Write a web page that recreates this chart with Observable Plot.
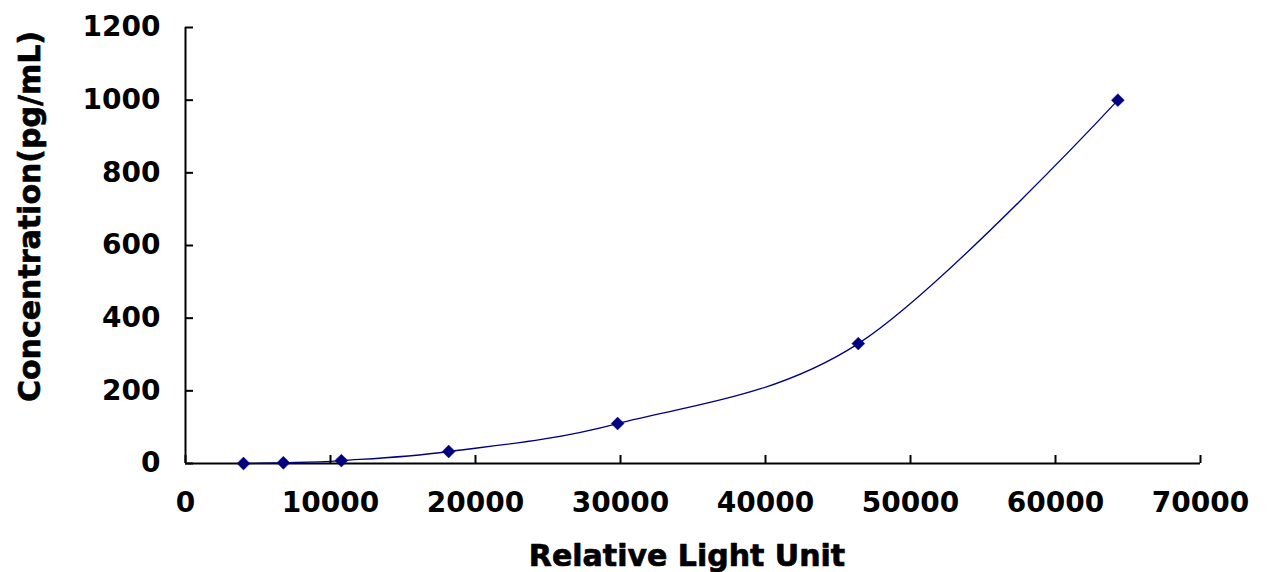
<!DOCTYPE html>
<html>
<head>
<meta charset="utf-8">
<script src="https://cdn.jsdelivr.net/npm/d3@7"></script>
<script src="https://cdn.jsdelivr.net/npm/@observablehq/plot@0.6"></script>
<style>
  html, body { margin: 0; padding: 0; background: #ffffff; }
</style>
</head>
<body>
<div id="chart"></div>
<script>
// Standard curve readings
const rlu = [4000, 6750, 10750, 18150, 29800, 46400, 64300];
const concentration = [0, 2, 8, 33, 110, 330, 1000];

// Axis ticks
const xTicks = [0, 10000, 20000, 30000, 40000, 50000, 60000, 70000];
const yTicks = [0, 200, 400, 600, 800, 1000, 1200];

// Labels
const xLabel = "Relative Light Unit";
const yLabel = "Concentration(pg/mL)";

const points = rlu.map((x, i) => ({x, y: concentration[i]}));
const navy = "#000080";

const chart = Plot.plot({
  width: 1267,
  height: 572,
  marginLeft: 185,
  marginRight: 67,
  marginTop: 27,
  marginBottom: 109,
  style: {
    fontFamily: "DejaVu Sans",
    fontWeight: "bold",
    fontSize: "28px",
    color: "#000",
    background: "#fff",
    overflow: "visible"
  },
  x: {domain: [0, 70000]},
  y: {domain: [0, 1200]},
  marks: [
    // inward tick marks: zero-length rules at the axis origin, extended into the frame by inset
    Plot.ruleX(xTicks, {x: d => d, y1: 0, y2: 0, insetTop: -8, stroke: "#000", strokeWidth: 2}),
    Plot.ruleY(yTicks, {y: d => d, x1: 0, x2: 0, insetRight: -8, stroke: "#000", strokeWidth: 2}),
    // tick labels
    Plot.axisX({
      ticks: xTicks, tickSize: 0, tickPadding: 29,
      tickFormat: d => String(d), label: null,
      fontSize: 28, fontWeight: "bold", fill: "#000", stroke: "#000", strokeWidth: 0.7
    }),
    Plot.axisY({
      ticks: yTicks, tickSize: 0, tickPadding: 25,
      tickFormat: d => String(d), label: null,
      fontSize: 28, fontWeight: "bold", fill: "#000", stroke: "#000", strokeWidth: 0.7
    }),
    Plot.ruleY([0], {stroke: "#000", strokeWidth: 2}),
    Plot.ruleX([0], {stroke: "#000", strokeWidth: 2}),
    Plot.line(points, {x: "x", y: "y", curve: "cardinal", stroke: navy, strokeWidth: 1.3}),
    Plot.dot(points, {x: "x", y: "y", symbol: "diamond2", r: 5.8, fill: navy, stroke: navy, strokeWidth: 0.5}),
    Plot.text([xLabel], {frameAnchor: "bottom", text: d => d, dx: -6, dy: 93, textAnchor: "middle", lineAnchor: "middle", fontSize: 30, fontWeight: "bold", fill: "#000", stroke: "#000", strokeWidth: 0.7}),
    Plot.text([yLabel], {frameAnchor: "left", text: d => d, rotate: -90, dx: -155, dy: -29, textAnchor: "middle", lineAnchor: "middle", fontSize: 30, fontWeight: "bold", fill: "#000", stroke: "#000", strokeWidth: 0.7})
  ]
});

document.getElementById("chart").appendChild(chart);
</script>
</body>
</html>
